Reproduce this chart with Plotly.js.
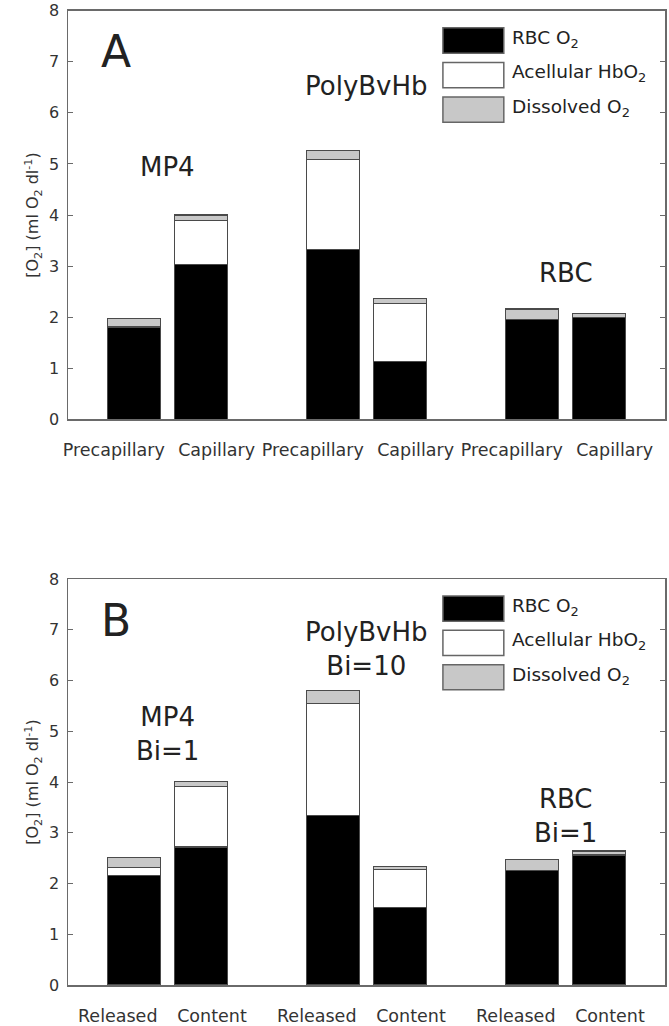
<!DOCTYPE html>
<html>
<head>
<meta charset="utf-8">
<script src="https://cdn.plot.ly/plotly-3.0.1.min.js"></script>
<style>html,body{margin:0;padding:0;background:#fff;}#chart{width:669px;height:1026px;}</style>
</head>
<body>
<div id="chart"></div>
<script>
// ---- data ----
const groups = ['MP4', 'PolyBvHb', 'RBC'];
const catsA = ['Precapillary', 'Capillary', 'Precapillary', 'Capillary', 'Precapillary', 'Capillary'];
const catsB = ['Released', 'Content', 'Released', 'Content', 'Released', 'Content'];
const xpos = [1, 2, 4, 5, 7, 8];
const seriesNames = ['RBC O<sub>2</sub>', 'Acellular HbO<sub>2</sub>', 'Dissolved O<sub>2</sub>'];

// Panel A
const rbcA   = [1.79, 3.03, 3.32, 1.13, 1.96, 2.00];
const acellA = [0.02, 0.86, 1.76, 1.13, 0.00, 0.00];
const dissA  = [0.17, 0.11, 0.19, 0.11, 0.20, 0.07];
// Panel B
const rbcB   = [2.15, 2.72, 3.34, 1.52, 2.25, 2.56];
const acellB = [0.17, 1.19, 2.20, 0.76, 0.00, 0.00];
const dissB  = [0.20, 0.10, 0.26, 0.06, 0.23, 0.08];

const groupLabelsA = ['MP4', 'PolyBvHb', 'RBC'];
const groupLabelsB = ['MP4<br>Bi=1', 'PolyBvHb<br>Bi=10', 'RBC<br>Bi=1'];

// ---- styling ----
const FONT = 'DejaVu Sans, sans-serif';
const fills = ['#000000', '#ffffff', '#c8c8c8'];
const edge = '#4a4a4a';
const textCol = '#222';

function barTrace(vals, k, xa, ya) {
  return {
    type: 'bar', x: xpos, y: vals, width: 0.8, name: seriesNames[k],
    xaxis: xa, yaxis: ya, showlegend: false,
    marker: {color: fills[k], line: {color: edge, width: 1.2}},
    hoverinfo: 'y'
  };
}

const traces = [
  barTrace(rbcA, 0, 'x', 'y'), barTrace(acellA, 1, 'x', 'y'), barTrace(dissA, 2, 'x', 'y'),
  barTrace(rbcB, 0, 'x2', 'y2'), barTrace(acellB, 1, 'x2', 'y2'), barTrace(dissB, 2, 'x2', 'y2')
];

// tick label offsets (labels are off-centre in the original)
const offA = [-0.31, 0.24];
const offB = [-0.25, 0.17];
const tvA = xpos.map((v, i) => v + offA[i % 2]);
const tvB = xpos.map((v, i) => v + offB[i % 2]);

const xDom = [68 / 669, 665 / 669];
function xAxis(tv, tt) {
  return {
    domain: xDom, range: [0, 9], showline: true, mirror: true, linecolor: '#6a6a6a', linewidth: 1.5,
    ticks: '', tickvals: tv, ticktext: tt, showgrid: false, zeroline: false,
    tickfont: {family: FONT, size: 17.5, color: '#333'}, ticklabelstandoff: 14
  };
}
function yAxis(dom, anchor) {
  return {
    domain: dom, anchor: anchor, range: [0, 8], dtick: 1, showline: true, mirror: 'ticks',
    linecolor: '#6a6a6a', linewidth: 1.5, ticks: 'inside', ticklen: 5, tickcolor: '#6a6a6a',
    showgrid: false, zeroline: false,
    tickfont: {family: FONT, size: 16, color: '#333'}, ticklabelstandoff: 4,
    title: {text: '[O<sub>2</sub>] (ml O<sub>2</sub> dl<sup>-1</sup>)', font: {family: FONT, size: 16, color: '#333'}, standoff: 6}
  };
}

const annotations = [];
const shapes = [];
function panelExtras(xr, yr, letter, labels, labelY, letterY) {
  const xd = xr + ' domain', yd = yr + ' domain';
  annotations.push({xref: xr, yref: yr, x: 0.72, y: letterY, text: letter, showarrow: false,
    font: {family: FONT, size: 44, color: textCol}, xanchor: 'center', yanchor: 'middle'});
  labels.forEach((t, i) => {
    annotations.push({xref: xr, yref: yr, x: (xpos[2 * i] + xpos[2 * i + 1]) / 2, y: labelY[i], text: t,
      showarrow: false, font: {family: FONT, size: 26, color: textCol}, xanchor: 'center', yanchor: 'middle'});
  });
  // custom legend with large swatches
  for (let k = 0; k < 3; k++) {
    const top = 0.958 - k * 0.0845, bot = top - 0.062;
    shapes.push({type: 'rect', xref: xd, yref: yd, x0: 0.628, x1: 0.730, y0: bot, y1: top,
      fillcolor: fills[k], line: {color: '#666', width: 1.5}});
    annotations.push({xref: xd, yref: yd, x: 0.740, y: (top + bot) / 2 + 0.004, text: seriesNames[k],
      showarrow: false, xanchor: 'left', yanchor: 'middle',
      font: {family: FONT, size: 18.5, color: textCol}});
  }
}
panelExtras('x', 'y', 'A', groupLabelsA, [4.94, 6.53, 2.87], 7.2);
panelExtras('x2', 'y2', 'B', groupLabelsB, [4.95, 6.63, 3.33], 7.19);

const layout = {
  width: 669, height: 1026, margin: {l: 0, r: 0, t: 0, b: 0},
  paper_bgcolor: '#fff', plot_bgcolor: '#fff', barmode: 'stack', showlegend: false,
  xaxis: Object.assign(xAxis(tvA, catsA), {anchor: 'y'}),
  yaxis: yAxis([1 - 419.3 / 1026, 1 - 10.7 / 1026], 'x'),
  xaxis2: Object.assign(xAxis(tvB, catsB), {anchor: 'y2'}),
  yaxis2: yAxis([1 - 985 / 1026, 1 - 579 / 1026], 'x2'),
  annotations: annotations, shapes: shapes,
  font: {family: FONT, color: textCol}
};

Plotly.newPlot('chart', traces, layout, {displayModeBar: false, staticPlot: true});
</script>
</body>
</html>
